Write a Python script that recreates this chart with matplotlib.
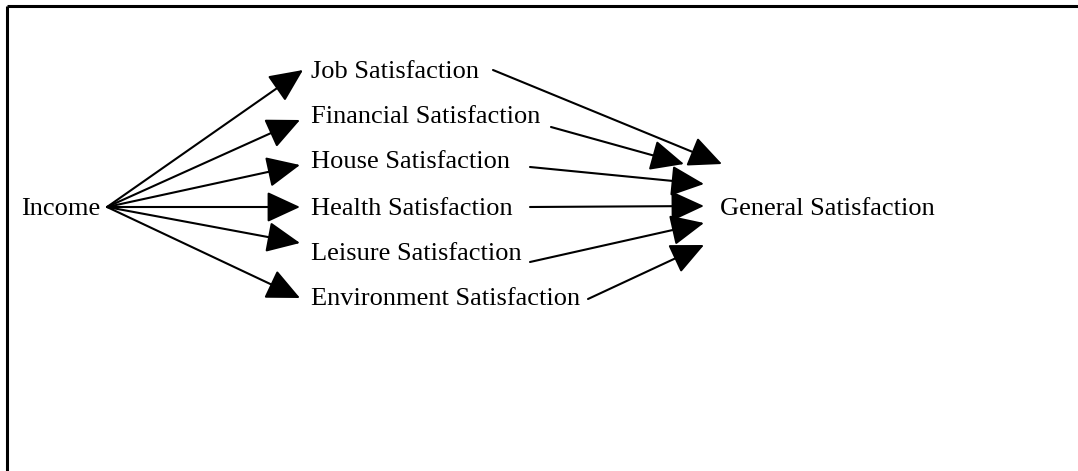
import matplotlib.pyplot as plt

# node labels
source = "Income"
mediators = ["Job Satisfaction", "Financial Satisfaction", "House Satisfaction",
             "Health Satisfaction", "Leisure Satisfaction", "Environment Satisfaction"]
target = "General Satisfaction"

# node positions (pixel-like coords, y down)
source_xy = (21, 209)
mediator_x = 311
mediator_y = [72, 117, 162, 209, 254, 299]
target_xy = (720, 209)

# arrows income -> mediators
in_start = (107, 207)
in_tips = [(303, 70), (300, 120), (300, 165), (300, 207), (300, 243), (300, 298)]

# arrows mediators -> general satisfaction
out_start = [(493, 70), (551, 127), (530, 167), (530, 207), (530, 262), (588, 299)]
out_tips = [(722, 164), (684, 164), (704, 184), (704, 206), (704, 223), (704, 245)]

plt.rcParams['font.family'] = ['Liberation Serif', 'DejaVu Serif']
fig = plt.figure(figsize=(10.78, 4.71), dpi=100)
ax = fig.add_axes([0, 0, 1, 1])
ax.set_xlim(0, 1078)
ax.set_ylim(471, 0)
ax.axis('off')

fs = 19
ax.text(source_xy[0], source_xy[1], source, fontsize=fs, va='center', ha='left')
for lab, y in zip(mediators, mediator_y):
    ax.text(mediator_x, y, lab, fontsize=fs, va='center', ha='left')
ax.text(target_xy[0], target_xy[1], target, fontsize=fs, va='center', ha='left')

aprops = dict(arrowstyle='-|>,head_length=1.3,head_width=0.6', color='black',
              lw=1.5, shrinkA=0, shrinkB=0, mutation_scale=16)
for tip in in_tips:
    ax.annotate("", xy=tip, xytext=in_start, arrowprops=aprops)
for st, tip in zip(out_start, out_tips):
    ax.annotate("", xy=tip, xytext=st, arrowprops=aprops)

# frame (top and left edges visible)
ax.plot([7, 1078], [6, 6], color='black', lw=2.2, solid_capstyle='butt')
ax.plot([7, 7], [6, 471], color='black', lw=2.2, solid_capstyle='butt')

fig.savefig("out.png", dpi=100)
